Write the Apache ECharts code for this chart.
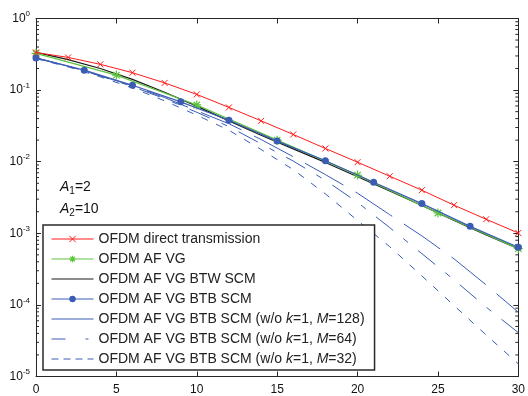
<!DOCTYPE html>
<html>
<head>
<meta charset="utf-8">
<script src="https://cdn.jsdelivr.net/npm/echarts@6/dist/echarts.min.js"></script>
<style>
html,body{margin:0;padding:0;background:#fff;}
#chart{width:528px;height:396px;}
</style>
</head>
<body>
<div id="chart"></div>
<script>
// ---- data ----
const snrEven = [0,2,4,6,8,10,12,14,16,18,20,22,24,26,28,30];
const snrBy3 = [0,3,6,9,12,15,18,21,24,27,30];
const snrBy5 = [0,5,10,15,20,25,30];

const directTx = [0.335,0.286,0.229,0.175,0.126,0.087,0.0573,0.0372,0.024,0.0153,0.00984,0.00627,0.0040,0.00247,0.00157,0.00101];
const afVG = [0.326,0.162,0.062,0.020,0.0065,0.00192,0.00061];
const btwSCM = [0.336,0.266,0.20,0.141,0.0933,0.0597,0.0372,0.0234,0.0151,0.00977,0.00617,0.00389,0.00245,0.00151,0.00095,0.00061];
const btbSCM = [0.28,0.19,0.117,0.0686,0.038,0.0194,0.0103,0.00517,0.0026,0.00125,0.00064];
const btbM128 = [0.282,0.216,0.158,0.115,0.0785,0.0513,0.0339,0.0204,0.01175,0.0066,0.00363,0.00182,0.00092,0.00044,0.00019,0.000079];
const btbM64 = [0.282,0.216,0.158,0.112,0.0759,0.049,0.0309,0.0178,0.0102,0.0055,0.0027,0.0012,0.00052,0.000224,0.000093,0.000041];
const btbM32 = [0.275,0.211,0.153,0.107,0.0708,0.0447,0.0275,0.0148,0.00776,0.00355,0.00151,0.00065,0.000254,0.000098,0.000038,0.000015];

const seriesNames = [
  'OFDM direct transmission',
  'OFDM AF VG',
  'OFDM AF VG BTW SCM',
  'OFDM AF VG BTB SCM',
  'OFDM AF VG BTB SCM (w/o k=1, M=128)',
  'OFDM AF VG BTB SCM (w/o k=1, M=64)',
  'OFDM AF VG BTB SCM (w/o k=1, M=32)'
];
const minorTickValues = [];
[-5,-4,-3,-2,-1].forEach(function(e){ for (let m=2;m<=9;m++) minorTickValues.push(m*Math.pow(10,e)); });

// ---- styles ----
const RED = '#ff1a1a', GREEN = '#5cc43c', BLACK = '#1a1a1a', BLUE = '#3a5cb4';
const FONT = 'Liberation Sans';
const pair = (xs, ys) => xs.map((x,i)=>[x, ys[i]]);
const xMark = 'path://M-1,-1L1,1M-1,1L1,-1';
const starMark = 'path://M0,-1L0,1M-1,0L1,0M-0.72,-0.72L0.72,0.72M-0.72,0.72L0.72,-0.72';

const chart = echarts.init(document.getElementById('chart'), null, {renderer:'canvas'});

const axisColor = '#262626';
const option = {
  animation: false,
  backgroundColor: '#fff',
  grid: {left: 36, right: 6, top: 18.5, bottom: 19.5},
  xAxis: [
    {type:'value', min:0, max:30, interval:5, position:'bottom',
     axisLine:{show:true, lineStyle:{color:axisColor, width:1}},
     axisTick:{show:true, inside:true, length:5, lineStyle:{color:axisColor}},
     axisLabel:{show:true, margin:7, color:'#111', fontSize:12, fontFamily:FONT},
     splitLine:{show:false}},
    {type:'value', min:0, max:30, interval:5, position:'top',
     axisLine:{show:true, onZero:false, lineStyle:{color:axisColor, width:1}},
     axisTick:{show:true, inside:true, length:5, lineStyle:{color:axisColor}},
     axisLabel:{show:false}, splitLine:{show:false}}
  ],
  yAxis: [
    {type:'log', logBase:10, min:1e-5, max:1, position:'left',
     axisLine:{show:true, onZero:false, lineStyle:{color:axisColor, width:1}},
     axisTick:{show:true, inside:true, length:5, lineStyle:{color:axisColor}},
     axisLabel:{show:true, margin:6, color:'#111', fontSize:12, fontFamily:FONT,
       formatter: function(v){ const e = Math.round(Math.log10(v)); return '{b|10}{s|' + e + '}'; },
       rich:{ b:{fontSize:12, fontFamily:FONT, color:'#111'},
              s:{fontSize:8, fontFamily:FONT, color:'#111', verticalAlign:'bottom', padding:[0,0,9,0]} }},
     splitLine:{show:false}},
    {type:'log', logBase:10, min:1e-5, max:1, position:'right',
     axisLine:{show:true, onZero:false, lineStyle:{color:axisColor, width:1}},
     axisTick:{show:true, inside:true, length:5, lineStyle:{color:axisColor}},
     axisLabel:{show:false}, splitLine:{show:false}}
  ],
  legend: {
    orient:'vertical', left:43, top:225,
    itemWidth:42, itemHeight:8, itemGap:4,
    padding:[6,10,3,8],
    backgroundColor:'#fff', borderColor:'#2a2a2a', borderWidth:1.5, borderRadius:0,
    lineStyle:{width:1},
    textStyle:{fontSize:14, lineHeight:16, fontFamily:FONT, color:'#222',
      rich:{ i:{fontSize:14, lineHeight:16, fontFamily:FONT, fontStyle:'italic', color:'#222'} }},
    formatter: function(name){ return name.replace('k=1','{i|k}=1').replace(/M=(\d+)/,'{i|M}=$1'); },
    data: [
      {name: seriesNames[0], itemStyle:{borderWidth:1}},
      {name: seriesNames[1], itemStyle:{borderWidth:1.2}},
      {name: seriesNames[2], itemStyle:{opacity:0}},
      {name: seriesNames[3]},
      {name: seriesNames[4], itemStyle:{opacity:0}, lineStyle:{type:'solid'}},
      {name: seriesNames[5], itemStyle:{opacity:0}, lineStyle:{type:[14,20,3,7]}},
      {name: seriesNames[6], itemStyle:{opacity:0}, lineStyle:{type:[7,5]}}
    ],
    selectedMode:false
  },
  graphic: [
    {type:'text', left:60, top:180, silent:true,
     style:{text:'{a|A}{sub|1}{t|=2}', rich:{
       a:{fontSize:14, fontFamily:FONT, fontStyle:'italic', fill:'#111'},
       sub:{fontSize:10, fontFamily:FONT, fill:'#111', verticalAlign:'top', padding:[8,0,0,0]},
       t:{fontSize:14, fontFamily:FONT, fill:'#111'} }}},
    {type:'text', left:60, top:202, silent:true,
     style:{text:'{a|A}{sub|2}{t|=10}', rich:{
       a:{fontSize:14, fontFamily:FONT, fontStyle:'italic', fill:'#111'},
       sub:{fontSize:10, fontFamily:FONT, fill:'#111', verticalAlign:'top', padding:[8,0,0,0]},
       t:{fontSize:14, fontFamily:FONT, fill:'#111'} }}}
  ],
  series: [
    {name: seriesNames[4], type:'line', data: pair(snrEven, btbM128), symbol:'none',
     lineStyle:{color:BLUE, width:1, type:[44,14]}, itemStyle:{color:BLUE}, z:2},
    {name: seriesNames[5], type:'line', data: pair(snrEven, btbM64), symbol:'none',
     lineStyle:{color:BLUE, width:1, type:[22,13,6,13]}, itemStyle:{color:BLUE}, z:2},
    {name: seriesNames[6], type:'line', data: pair(snrEven, btbM32), symbol:'none',
     lineStyle:{color:BLUE, width:1, type:[7,9]}, itemStyle:{color:BLUE}, z:2},
    {name: seriesNames[2], type:'line', data: pair(snrEven, btwSCM), symbol:'none',
     lineStyle:{color:BLACK, width:1.2}, itemStyle:{color:BLACK}, z:3},
    {name: seriesNames[1], type:'line', data: pair(snrBy5, afVG), symbol: starMark, symbolSize:9,
     lineStyle:{color:GREEN, width:1.2}, itemStyle:{color:'none', borderColor:GREEN, borderWidth:1.2}, z:4},
    {name: seriesNames[3], type:'line', data: pair(snrBy3, btbSCM), symbol:'circle', symbolSize:7,
     lineStyle:{color:BLUE, width:1.2}, itemStyle:{color:BLUE}, z:5},
    {name: seriesNames[0], type:'line', data: pair(snrEven, directTx), symbol: xMark, symbolSize:6,
     lineStyle:{color:RED, width:1}, itemStyle:{color:'none', borderColor:RED, borderWidth:1}, z:6},
    {name: 'minorTicks', type:'custom', silent:true, z:1, clip:false,
     data: minorTickValues.map(v=>[0, v]),
     renderItem: function(params, api){
       const v = api.value(1);
       const l = api.coord([0, v]);
       const r = api.coord([30, v]);
       return {type:'group', children:[
         {type:'line', shape:{x1:l[0], y1:l[1], x2:l[0]+3, y2:l[1]}, style:{stroke:axisColor, lineWidth:1}},
         {type:'line', shape:{x1:r[0]-3, y1:r[1], x2:r[0], y2:r[1]}, style:{stroke:axisColor, lineWidth:1}}
       ]};
     }}
  ]
};
chart.setOption(option);
</script>
</body>
</html>
